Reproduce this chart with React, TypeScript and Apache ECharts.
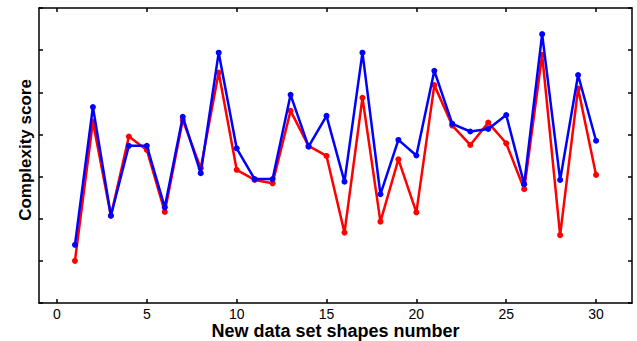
import React, { useEffect, useRef } from "react";
import * as echarts from "echarts";

const shapeNumbers = [1, 2, 3, 4, 5, 6, 7, 8, 9, 10, 11, 12, 13, 14, 15, 16, 17, 18, 19, 20, 21, 22, 23, 24, 25, 26, 27, 28, 29, 30];
const redScores = [1.0, 4.3, 2.07, 3.95, 3.63, 2.16, 4.34, 3.2, 5.47, 3.16, 2.92, 2.84, 4.56, 3.73, 3.49, 1.67, 4.87, 1.93, 3.41, 2.15, 5.17, 4.21, 3.75, 4.28, 3.79, 2.7, 5.89, 1.61, 5.09, 3.04];
const blueScores = [1.38, 4.65, 2.07, 3.73, 3.73, 2.27, 4.42, 3.08, 5.94, 3.67, 2.94, 2.94, 4.94, 3.71, 4.44, 2.88, 5.94, 2.58, 3.87, 3.5, 5.51, 4.25, 4.07, 4.13, 4.46, 2.82, 6.38, 2.92, 5.41, 3.85];
const xTickValues = [0, 5, 10, 15, 20, 25, 30];

export default function App() {
  const ref = useRef<HTMLDivElement>(null);
  useEffect(() => {
    if (!ref.current) return;
    const chart = echarts.init(ref.current, undefined, { renderer: "svg" });
    const frameLine = { show: true, onZero: false, lineStyle: { color: "#000", width: 1.5 } };
    const font = "Liberation Sans, Arial, sans-serif";
    chart.setOption({
      animation: false,
      backgroundColor: "#fff",
      grid: { left: 39, right: 5, top: 8, bottom: 38, containLabel: false, outerBoundsMode: "none" },
      xAxis: [
        {
          type: "value",
          min: -1,
          max: 32,
          position: "bottom",
          axisLine: frameLine,
          axisTick: { show: true, inside: true, length: 4, customValues: xTickValues, lineStyle: { color: "#000", width: 1.5 } },
          axisLabel: { show: true, customValues: xTickValues, color: "#000", fontSize: 14, lineHeight: 14, fontFamily: font, margin: 4 },
          splitLine: { show: false },
          name: "New data set shapes number",
          nameLocation: "middle",
          nameGap: 28,
          nameMoveOverlap: false,
          nameTextStyle: { color: "#000", fontSize: 18, fontWeight: "bold", fontFamily: font, verticalAlign: "middle", lineHeight: 18 },
        },
        {
          type: "value",
          min: -1,
          max: 32,
          position: "top",
          axisLine: frameLine,
          axisTick: { show: true, inside: true, length: 4, customValues: xTickValues, lineStyle: { color: "#000", width: 1.5 } },
          axisLabel: { show: false },
          splitLine: { show: false },
        },
      ],
      yAxis: [
        {
          type: "value",
          min: 0,
          max: 7,
          interval: 1,
          position: "left",
          axisLine: frameLine,
          axisTick: { show: true, inside: true, length: 4, lineStyle: { color: "#000", width: 1.5 } },
          axisLabel: { show: false },
          splitLine: { show: false },
          name: "Complexity score",
          nameLocation: "middle",
          nameGap: 5,
          nameMoveOverlap: false,
          nameTextStyle: { color: "#000", fontSize: 17, fontWeight: "bold", fontFamily: font, padding: [0, 0, 0, 11] },
        },
        {
          type: "value",
          min: 0,
          max: 7,
          interval: 1,
          position: "right",
          axisLine: frameLine,
          axisTick: { show: true, inside: true, length: 4, lineStyle: { color: "#000", width: 1.5 } },
          axisLabel: { show: false },
          splitLine: { show: false },
        },
      ],
      series: [
        {
          type: "line",
          data: shapeNumbers.map((x, i) => [x, redScores[i]]),
          color: "#ff0000",
          lineStyle: { width: 2.5, color: "#ff0000" },
          symbol: "circle",
          symbolSize: 6,
          itemStyle: { color: "#ff0000" },
          z: 2,
        },
        {
          type: "line",
          data: shapeNumbers.map((x, i) => [x, blueScores[i]]),
          color: "#0000ff",
          lineStyle: { width: 2.5, color: "#0000ff" },
          symbol: "circle",
          symbolSize: 6,
          itemStyle: { color: "#0000ff" },
          z: 3,
        },
      ],
    });
    return () => chart.dispose();
  }, []);
  return <div ref={ref} style={{ width: 637, height: 341, position: "absolute", left: 0, top: 0 }} />;
}
